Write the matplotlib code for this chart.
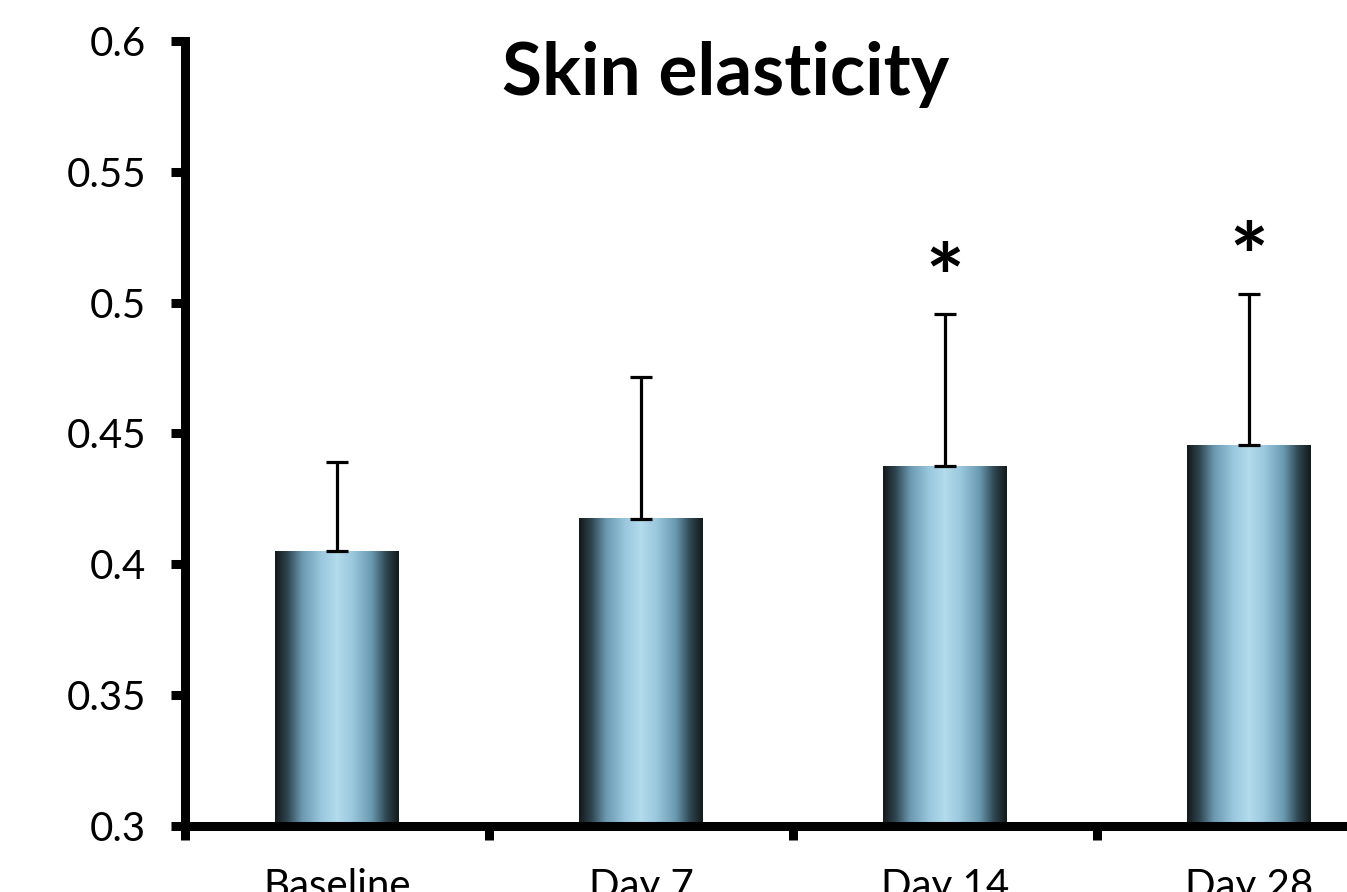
import numpy as np
import matplotlib
matplotlib.use("Agg")
import matplotlib.pyplot as plt
from matplotlib.colors import LinearSegmentedColormap

categories = ["Baseline", "Day 7", "Day 14", "Day 28"]
means = [0.405, 0.4175, 0.4375, 0.4455]
errors = [0.034, 0.054, 0.058, 0.058]
significant = [False, False, True, True]
yticks = [0.3, 0.35, 0.4, 0.45, 0.5, 0.55, 0.6]
ytick_labels = ["0.3", "0.35", "0.4", "0.45", "0.5", "0.55", "0.6"]
title = "Skin elasticity"

plt.rcParams['font.family'] = ['Lato', 'DejaVu Sans']

W, H = 1347, 892
fig = plt.figure(figsize=(W / 100, H / 100), dpi=100)
ax = fig.add_axes([185 / W, 66 / H, 1216 / W, 785 / H])

x = np.arange(len(categories))
bw = 0.405
bars = ax.bar(x, [m - 0.3 for m in means], bottom=0.3, width=bw,
              color='none', edgecolor='none', zorder=2)

cmap = LinearSegmentedColormap.from_list(
    "barshade",
    [(0.0, "#121a1a"), (0.10, "#2f4550"), (0.22, "#6a9ab2"),
     (0.38, "#9cc9df"), (0.5, "#b2dbec"), (0.62, "#9cc9df"),
     (0.78, "#6a9ab2"), (0.90, "#2f4550"), (1.0, "#121a1a")])
grad = np.linspace(0, 1, 256).reshape(1, -1)
for b in bars:
    x0 = b.get_x()
    ax.imshow(grad, cmap=cmap, aspect='auto', interpolation='bicubic',
              extent=[x0, x0 + b.get_width(), b.get_y(), b.get_y() + b.get_height()],
              zorder=2)

ax.errorbar(x, means, yerr=[np.zeros(len(means)), errors], fmt='none',
            ecolor='black', elinewidth=2.3, capsize=7.8, capthick=2.3, zorder=3)

for xi, m, e, s in zip(x, means, errors, significant):
    if s:
        ax.annotate("*", xy=(xi, m + e), xytext=(0, -9), textcoords='offset points',
                    ha='center', va='bottom', fontsize=66, fontweight='bold',
                    color='black')

ax.set_xlim(-0.5, 3.5)
ax.set_ylim(0.3, 0.6)
ax.set_yticks(yticks)
ax.set_yticklabels(ytick_labels)
ax.set_xticks([-0.5, 0.5, 1.5, 2.5])
ax.set_xticklabels([])
ax.set_xticks(x, minor=True)
ax.set_xticklabels(categories, minor=True)

for side in ['top', 'right']:
    ax.spines[side].set_visible(False)
for side in ['left', 'bottom']:
    ax.spines[side].set_linewidth(6.5)
    ax.spines[side].set_capstyle('projecting')

ax.tick_params(axis='both', which='major', direction='out', length=10,
               width=6.5, labelsize=29, pad=18)
ax.tick_params(axis='x', which='minor', length=0, labelsize=29, pad=30)

fig.text(726 / W, 1 - 95 / H, title, ha='center', va='baseline',
         fontsize=52.5, fontweight='bold')

fig.savefig("out.png", dpi=100)
